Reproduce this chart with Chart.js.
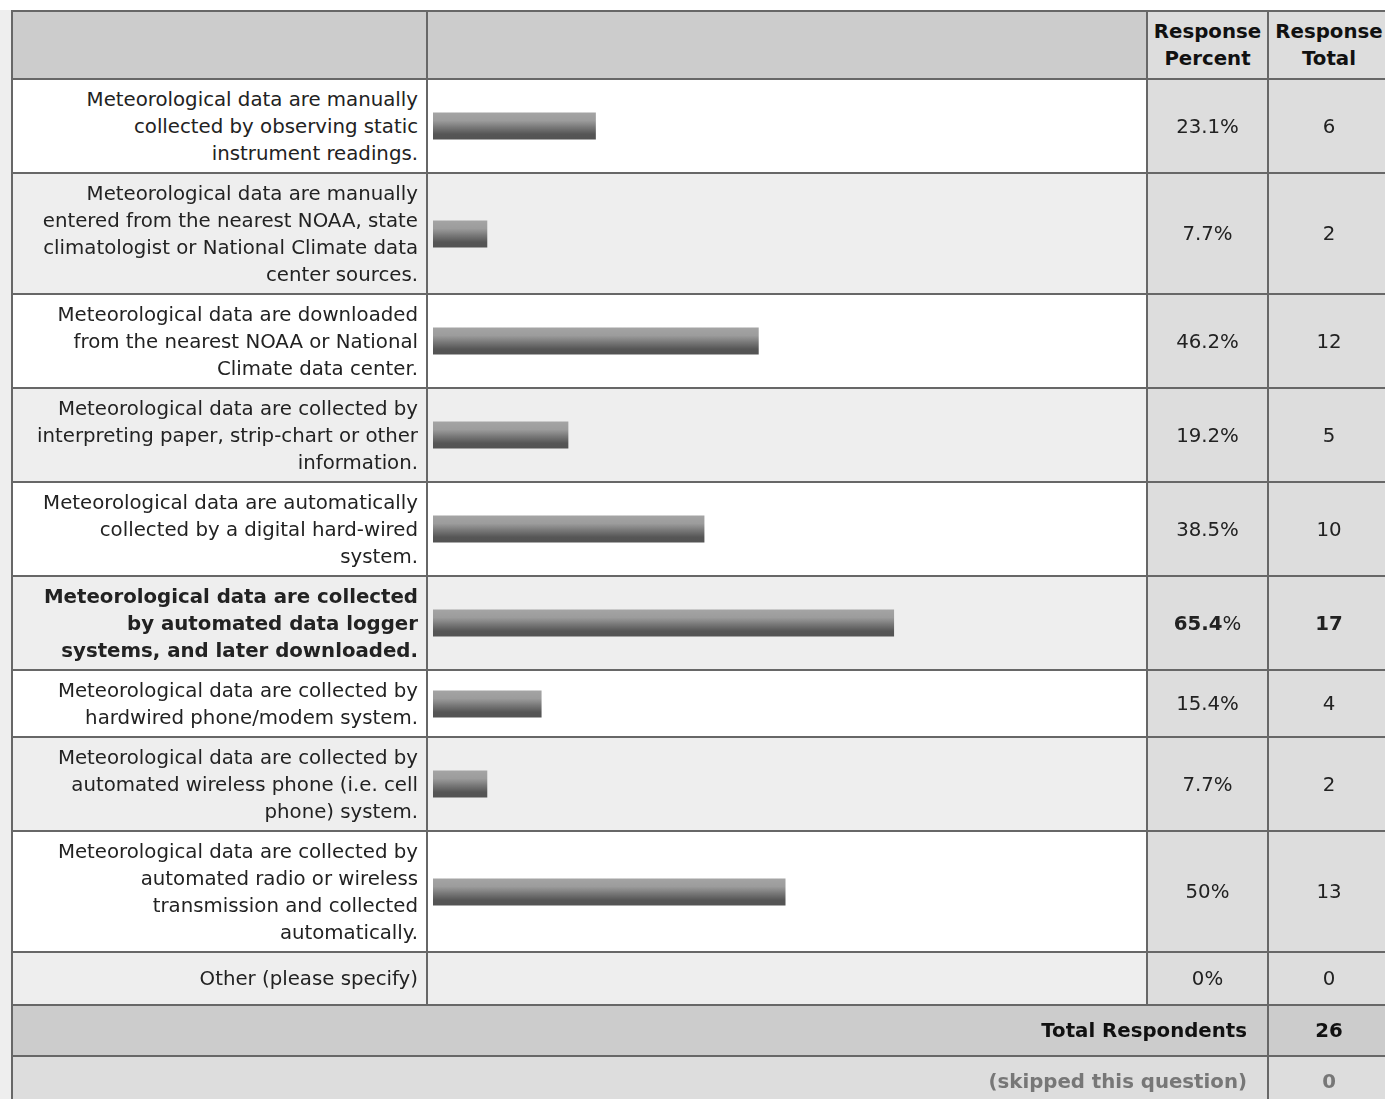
<!DOCTYPE html>
<html>
<head>
<meta charset="utf-8">
<script src="https://cdn.jsdelivr.net/npm/chart.js@4/dist/chart.umd.min.js"></script>
<style>
  html, body { margin: 0; padding: 0; background: #fff; overflow: hidden; }
  #wrap { position: absolute; left: 0; top: 10px; width: 1400px; height: 1200px; background: #eee; }
  table {
    position: absolute; left: 11px; top: 0;
    border-collapse: separate; border-spacing: 0; table-layout: fixed; width: 1380px;
    border-left: 2px solid #676767; border-top: 2px solid #676767;
    font-family: "DejaVu Sans", Verdana, sans-serif; font-size: 19.75px; line-height: 27px; color: #222;
  }
  td, th {
    box-sizing: border-box; border-right: 2px solid #676767; border-bottom: 2px solid #676767;
    padding: 5.5px 8px; vertical-align: middle;
  }
  th { font-weight: bold; background: #ccc; color: #111; padding: 6px 8px; }
  th.num { background: #ddd; text-align: center; padding: 6px 2px; }
  td.ans { text-align: right; white-space: pre-line; }
  td.bar { padding: 5.5px 8px 5.5px 5px; }
  td.bar canvas { display: block; }
  td.num { text-align: center; background: #ddd; padding: 5.5px 2px; }
  tr.odd td.ans, tr.odd td.bar { background: #fff; }
  tr.even td.ans, tr.even td.bar { background: #eee; }
  tr.strong td { font-weight: bold; }
  tr.strong td.num span.pct { font-weight: normal; }
  tr.total td { background: #ccc; font-weight: bold; padding: 11px 20px; text-align: right; color: #111; }
  tr.total td.num { text-align: center; padding: 11px 2px; }
  tr.skip td { background: #ddd; font-weight: bold; padding: 11px 20px; text-align: right; color: #777; }
  tr.skip td.num { text-align: center; padding: 11px 2px; }
</style>
</head>
<body>
<div id="wrap">
  <table id="tbl">
    <colgroup><col style="width:415px"><col style="width:720px"><col style="width:121px"><col style="width:122px"></colgroup>
    <thead><tr><th></th><th></th><th class="num">Response<br>Percent</th><th class="num">Response<br>Total</th></tr></thead>
    <tbody id="rows"></tbody>
  </table>
</div>
<script>
  // answer choices (line breaks as shown in the survey)
  var answers = [
    'Meteorological data are manually\ncollected by observing static\ninstrument readings.',
    'Meteorological data are manually\nentered from the nearest NOAA, state\nclimatologist or National Climate data\ncenter sources.',
    'Meteorological data are downloaded\nfrom the nearest NOAA or National\nClimate data center.',
    'Meteorological data are collected by\ninterpreting paper, strip-chart or other\ninformation.',
    'Meteorological data are automatically\ncollected by a digital hard-wired\nsystem.',
    'Meteorological data are collected\nby automated data logger\nsystems, and later downloaded.',
    'Meteorological data are collected by\nhardwired phone/modem system.',
    'Meteorological data are collected by\nautomated wireless phone (i.e. cell\nphone) system.',
    'Meteorological data are collected by\nautomated radio or wireless\ntransmission and collected\nautomatically.',
    'Other (please specify)'
  ];
  var responsePercent = [23.1, 7.7, 46.2, 19.2, 38.5, 65.4, 15.4, 7.7, 50, 0];
  var responseTotal = [6, 2, 12, 5, 10, 17, 4, 2, 13, 0];
  var totalRespondents = 26;
  var skipped = 0;

  var topIndex = responsePercent.indexOf(Math.max.apply(null, responsePercent));
  var tbody = document.getElementById('rows');

  function barFill(ctx) {
    var chart = ctx.chart;
    if (!chart.chartArea) return '#777';
    var yc = chart.scales.y.getPixelForValue(0);
    var g = chart.ctx.createLinearGradient(0, yc - 13.5, 0, yc + 13.5);
    g.addColorStop(0, '#a4a4a4');
    g.addColorStop(0.3, '#9c9c9c');
    g.addColorStop(0.55, '#787878');
    g.addColorStop(0.8, '#565656');
    g.addColorStop(1, '#535353');
    return g;
  }

  answers.forEach(function (text, i) {
    var tr = document.createElement('tr');
    tr.className = (i % 2 === 0 ? 'odd' : 'even') + (i === topIndex ? ' strong' : '');

    var tdA = document.createElement('td');
    tdA.className = 'ans';
    tdA.textContent = text;
    tr.appendChild(tdA);

    var tdB = document.createElement('td');
    tdB.className = 'bar';
    var cv = document.createElement('canvas');
    cv.width = 705; cv.height = 40;
    cv.style.width = '705px'; cv.style.height = '40px';
    tdB.appendChild(cv);
    tr.appendChild(tdB);

    var tdP = document.createElement('td');
    tdP.className = 'num';
    if (i === topIndex) {
      tdP.innerHTML = '<b>' + responsePercent[i] + '</b><span class="pct">%</span>';
    } else {
      tdP.textContent = responsePercent[i] + '%';
    }
    tr.appendChild(tdP);

    var tdT = document.createElement('td');
    tdT.className = 'num';
    tdT.textContent = responseTotal[i];
    tr.appendChild(tdT);
    tbody.appendChild(tr);

    new Chart(cv, {
      type: 'bar',
      data: {
        labels: [text],
        datasets: [{
          data: [responsePercent[i]],
          backgroundColor: barFill,
          borderWidth: 0,
          inflateAmount: 0,
          barThickness: 27
        }]
      },
      options: {
        indexAxis: 'y',
        responsive: false,
        animation: false,
        layout: { padding: 0 },
        plugins: { legend: { display: false }, tooltip: { enabled: false } },
        scales: {
          x: { display: false, min: 0, max: 100 },
          y: { display: false }
        }
      }
    });
  });

  var trT = document.createElement('tr');
  trT.className = 'total';
  trT.innerHTML = '<td colspan="3">Total Respondents</td><td class="num">' + totalRespondents + '</td>';
  tbody.appendChild(trT);

  var trS = document.createElement('tr');
  trS.className = 'skip';
  trS.innerHTML = '<td colspan="3">(skipped this question)</td><td class="num">' + skipped + '</td>';
  tbody.appendChild(trS);
</script>
</body>
</html>
